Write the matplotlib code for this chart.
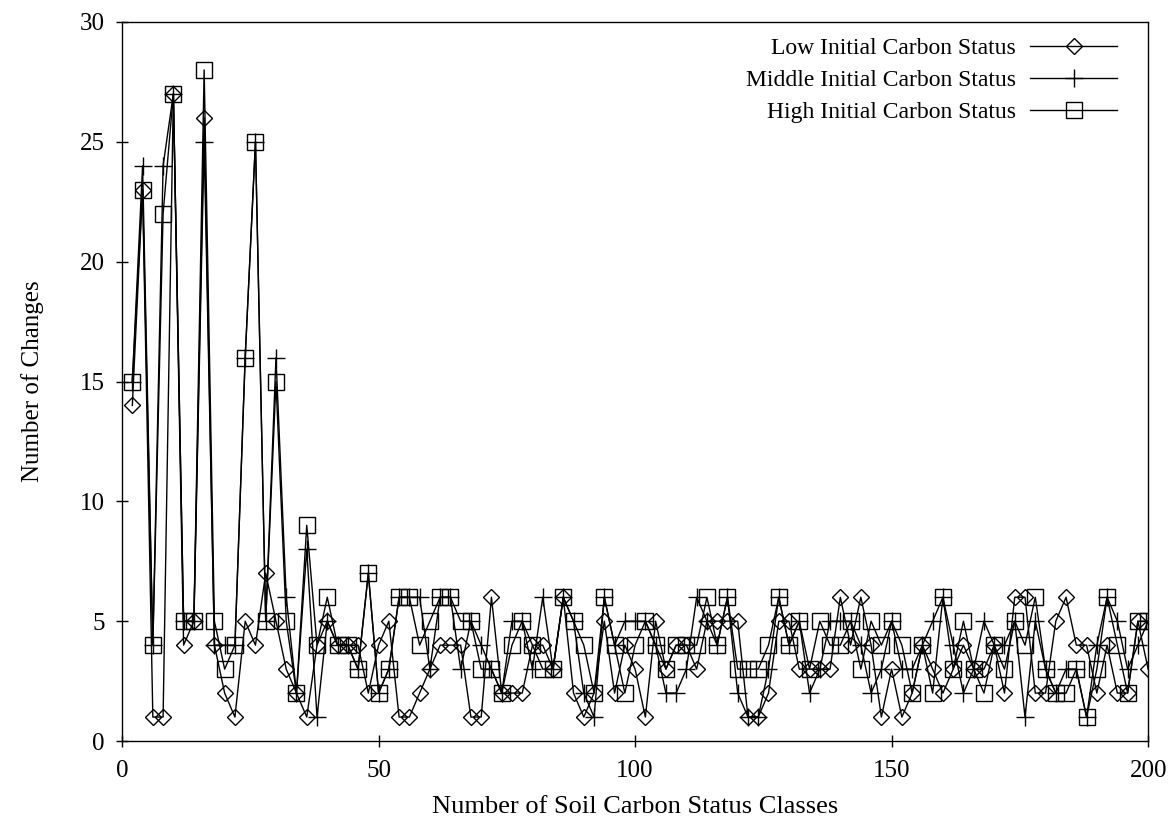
import numpy as np
import matplotlib
matplotlib.use("Agg")
import matplotlib.pyplot as plt

plt.rcParams['font.family'] = ['Liberation Serif', 'DejaVu Serif']

# soil carbon status classes (x) and number of changes for each initial status
classes = list(range(2, 201, 2))

low = [14, 23, 1, 1, 27, 4, 5, 26, 4, 2,
       1, 5, 4, 7, 5, 3, 2, 1, 4, 5,
       4, 4, 4, 2, 4, 5, 1, 1, 2, 3,
       4, 4, 4, 1, 1, 6, 2, 2, 2, 4,
       4, 3, 6, 2, 1, 2, 5, 2, 4, 3,
       1, 5, 3, 4, 4, 3, 5, 5, 5, 5,
       1, 1, 2, 5, 5, 3, 3, 3, 3, 6,
       4, 6, 4, 1, 3, 1, 2, 4, 3, 2,
       3, 4, 3, 3, 4, 2, 6, 6, 2, 2,
       5, 6, 4, 4, 2, 4, 2, 2, 5, 3]

middle = [15, 24, 4, 24, 27, 5, 5, 25, 4, 4,
          4, 16, 25, 5, 16, 6, 2, 8, 1, 5,
          4, 4, 3, 7, 2, 3, 6, 6, 6, 3,
          6, 6, 3, 5, 4, 3, 2, 5, 5, 3,
          6, 3, 6, 5, 2, 1, 6, 4, 5, 5,
          5, 4, 2, 2, 3, 6, 5, 4, 6, 2,
          1, 1, 3, 6, 4, 5, 2, 3, 5, 5,
          5, 4, 2, 3, 5, 3, 3, 4, 5, 6,
          4, 2, 3, 5, 4, 4, 5, 1, 5, 3,
          2, 3, 3, 1, 4, 6, 5, 3, 4, 5]

high = [15, 23, 4, 22, 27, 5, 5, 28, 5, 3,
        4, 16, 25, 5, 15, 5, 2, 9, 4, 6,
        4, 4, 3, 7, 2, 3, 6, 6, 4, 5,
        6, 6, 5, 5, 3, 3, 2, 4, 5, 4,
        3, 3, 6, 5, 4, 2, 6, 4, 2, 4,
        5, 4, 3, 4, 4, 4, 6, 4, 6, 3,
        3, 3, 4, 6, 4, 5, 3, 5, 4, 4,
        5, 3, 5, 4, 5, 4, 2, 4, 2, 6,
        3, 5, 3, 2, 4, 3, 5, 4, 6, 3,
        2, 2, 3, 1, 3, 6, 4, 2, 5, 5]

fig = plt.figure(figsize=(11.68, 8.36), dpi=100)
ax = fig.add_axes([0.1045, 0.1136, 0.8785, 0.8601])

ax.plot(classes, low, color='black', lw=1.0, marker='D', ms=8, mfc='none',
        mec='black', mew=1.0, label='Low Initial Carbon Status')
ax.plot(classes, middle, color='black', lw=1.0, marker='+', ms=13,
        mew=1.0, label='Middle Initial Carbon Status')
ax.plot(classes, high, color='black', lw=1.0, marker='s', ms=11, mfc='none',
        mec='black', mew=1.0, label='High Initial Carbon Status')

ax.set_xlim(0, 200)
ax.set_ylim(0, 30)
ax.set_xticks([0, 50, 100, 150, 200])
ax.set_yticks([0, 5, 10, 15, 20, 25, 30])
ax.tick_params(direction='inout', length=9, width=1, labelsize=18)
ax.tick_params(axis='x', pad=9)
ax.tick_params(axis='y', pad=8)
for s in ax.spines.values():
    s.set_linewidth(1.0)

ax.set_xlabel('Number of Soil Carbon Status Classes', fontsize=19, labelpad=10)
ax.set_ylabel('Number of Changes', fontsize=18, labelpad=26)

ax.legend(loc='upper right', markerfirst=False, frameon=False, fontsize=17,
          handlelength=3.7, handletextpad=0.6, labelspacing=0.45,
          borderaxespad=0.25, bbox_to_anchor=(0.985, 1.0))

fig.savefig('out.png', dpi=100)
